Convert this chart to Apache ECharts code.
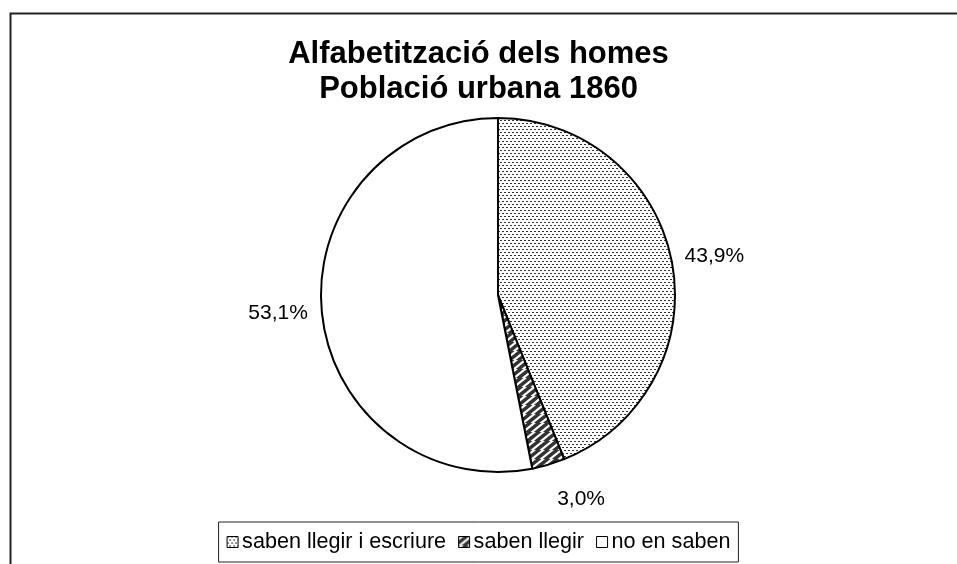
<!DOCTYPE html>
<html>
<head>
<meta charset="utf-8">
<script src="https://cdn.jsdelivr.net/npm/echarts@6/dist/echarts.min.js"></script>
<style>
  html, body { margin: 0; padding: 0; background: #fff; }
  #chart { width: 957px; height: 564px; }
</style>
</head>
<body>
<div id="chart"></div>
<script>
const titleLines = ["Alfabetització dels homes", "Població urbana 1860"];
const categories = ["saben llegir i escriure", "saben llegir", "no en saben"];
const percents = [43.9, 3.0, 53.1];

// fill patterns like the old spreadsheet chart
function dotPattern() {
  const c = document.createElement("canvas");
  c.width = 4; c.height = 6;
  const ctx = c.getContext("2d");
  ctx.fillStyle = "#fff";
  ctx.fillRect(0, 0, 4, 6);
  ctx.fillStyle = "#333";
  ctx.fillRect(0, 0, 2, 1);
  ctx.fillRect(2, 3, 2, 1);
  return c;
}
function stripePattern() {
  const c = document.createElement("canvas");
  c.width = 9; c.height = 9;
  const ctx = c.getContext("2d");
  ctx.fillStyle = "#fff";
  ctx.fillRect(0, 0, 9, 9);
  ctx.strokeStyle = "#333";
  ctx.lineWidth = 3.5;
  ctx.beginPath();
  for (let k = -9; k <= 18; k += 9) {
    ctx.moveTo(k - 9, 9 + 4.5);
    ctx.lineTo(k + 9 + 4.5, -4.5);
  }
  ctx.stroke();
  return c;
}

const fills = [
  { image: dotPattern(), repeat: "repeat" },
  { image: stripePattern(), repeat: "repeat" },
  "#ffffff"
];

const chart = echarts.init(document.getElementById("chart"));
chart.setOption({
  animation: false,
  backgroundColor: "#fff",
  graphic: [
    {
      type: "rect",
      left: 8, top: 11,
      shape: { width: 1000, height: 700 },
      style: { fill: "none", stroke: "#222", lineWidth: 2 },
      silent: true
    }
  ],
  title: {
    text: titleLines.join("\n"),
    left: "center",
    top: 32,
    textStyle: {
      fontFamily: "Liberation Sans, Arial, sans-serif",
      fontWeight: "bold",
      fontSize: 31,
      lineHeight: 35,
      color: "#000"
    }
  },
  legend: {
    bottom: 2,
    left: "center",
    icon: "rect",
    itemWidth: 11,
    itemHeight: 11,
    itemGap: 12,
    padding: [9, 8, 9, 8],
    borderColor: "#222",
    borderWidth: 1,
    itemStyle: { borderColor: "#000", borderWidth: 1 },
    textStyle: {
      fontFamily: "Liberation Sans, Arial, sans-serif",
      fontSize: 21.6,
      color: "#000",
      padding: [0, 0, 0, -1]
    },
    data: categories
  },
  series: [
    {
      type: "pie",
      center: [498, 295],
      radius: 177,
      startAngle: 90,
      clockwise: true,
      itemStyle: { borderColor: "#000", borderWidth: 2 },
      label: {
        show: true,
        position: "outside",
        fontFamily: "Liberation Sans, Arial, sans-serif",
        fontSize: 21,
        color: "#000",
        formatter: (p) => p.value.toFixed(1).replace(".", ",") + "%"
      },
      labelLine: { show: false, length: 13, length2: 0 },
      labelLayout: (p) => {
        const dxs = [-5, 0, 4];
        const dys = [-3, 22, 0];
        return { dx: dxs[p.dataIndex], dy: dys[p.dataIndex] };
      },
      emphasis: { disabled: true },
      data: categories.map((name, i) => ({
        name: name,
        value: percents[i],
        itemStyle: { color: fills[i] }
      }))
    }
  ]
});
</script>
</body>
</html>
